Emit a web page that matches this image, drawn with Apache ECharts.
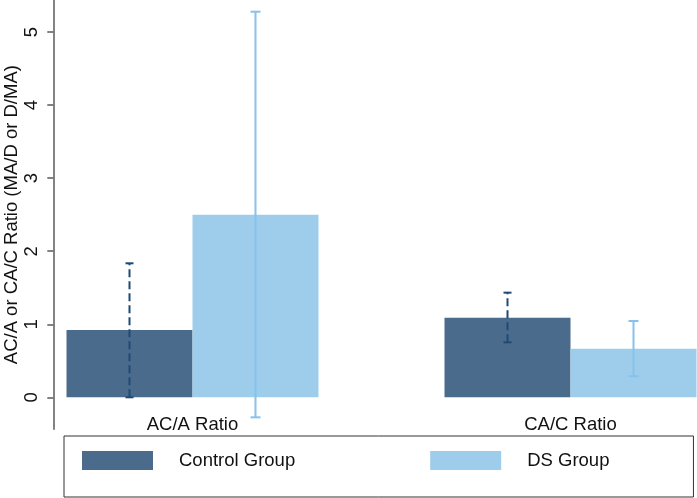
<!DOCTYPE html>
<html>
<head>
<meta charset="utf-8">
<script src="https://cdn.jsdelivr.net/npm/echarts@6/dist/echarts.min.js"></script>
<style>html,body{margin:0;padding:0;background:#fff;}#c{width:697px;height:498px;}</style>
</head>
<body>
<div id="c"></div>
<script>
var categories = ['AC/A Ratio', 'CA/C Ratio'];
var seriesNames = ['Control Group', 'DS Group'];
var controlMeans = [0.922, 1.09];
var dsMeans = [2.5, 0.666];
var controlLow = [0.0, 0.753];
var controlHigh = [1.835, 1.433];
var dsLow = [-0.274, 0.288];
var dsHigh = [5.28, 1.045];
var yTicks = [0, 1, 2, 3, 4, 5];

var FONT = 'Liberation Sans, Arial, Helvetica, sans-serif';
var FS = 18.5;
var BAR_W = 126;

function errData(lo, hi) {
  return categories.map(function (c, i) { return [i, lo[i], hi[i]]; });
}
function makeErr(offset, color, dashed, capHalf) {
  return function (params, api) {
    var x = api.value(0);
    var pLo = api.coord([x, api.value(1)]);
    var pHi = api.coord([x, api.value(2)]);
    var cx = pLo[0] + offset;
    var style = { stroke: color, lineWidth: 2, fill: null };
    if (dashed) style.lineDash = [8, 4];
    var capStyle = { stroke: color, lineWidth: 2, fill: null };
    return {
      type: 'group',
      children: [
        { type: 'line', shape: { x1: cx, y1: pLo[1], x2: cx, y2: pHi[1] }, style: style },
        { type: 'line', shape: { x1: cx - capHalf, y1: pHi[1], x2: cx + capHalf, y2: pHi[1] }, style: capStyle },
        { type: 'line', shape: { x1: cx - capHalf, y1: pLo[1], x2: cx + capHalf, y2: pLo[1] }, style: capStyle }
      ]
    };
  };
}

var chart = echarts.init(document.getElementById('c'), null, { renderer: 'canvas' });
chart.setOption({
  animation: false,
  backgroundColor: '#fff',
  textStyle: { fontFamily: FONT },
  grid: { left: 3.5, top: 0, width: 756, height: 429.3, containLabel: false, outerBoundsMode: 'none' },
  legend: {
    data: seriesNames,
    left: 64, top: 436,
    orient: 'horizontal',
    icon: 'rect',
    itemWidth: 71, itemHeight: 19,
    itemGap: 135,
    padding: [15, 84, 27, 18],
    borderColor: '#333', borderWidth: 1,
    textStyle: { fontSize: FS, color: '#111', fontFamily: FONT, padding: [0, 0, 0, 21] }
  },
  xAxis: {
    type: 'category',
    data: categories,
    boundaryGap: true,
    axisLine: { show: false },
    axisTick: { show: false },
    axisLabel: { margin: -14, fontSize: FS, color: '#111', fontFamily: FONT },
    splitLine: { show: false }
  },
  yAxis: {
    type: 'value',
    min: -0.438, max: 5.44,
    offset: -49.8,
    name: 'AC/A or CA/C Ratio (MA/D or D/MA)',
    nameLocation: 'middle',
    nameRotate: 90,
    nameGap: 32,
    nameMoveOverlap: false,
    nameTextStyle: { fontSize: FS, color: '#111', fontFamily: FONT },
    axisLine: { show: true, lineStyle: { color: '#5a5a5a', width: 1.5 } },
    axisTick: { show: true, length: 6, customValues: yTicks, lineStyle: { color: '#5a5a5a', width: 1.5 } },
    axisLabel: { rotate: 90, margin: 12, fontSize: FS, color: '#111', fontFamily: FONT, customValues: yTicks },
    splitLine: { show: false }
  },
  series: [
    { name: seriesNames[0], type: 'bar', data: controlMeans, barWidth: BAR_W, barGap: '0%',
      itemStyle: { color: '#4a6b8c' } },
    { name: seriesNames[1], type: 'bar', data: dsMeans, barWidth: BAR_W, barGap: '0%',
      itemStyle: { color: '#9ecdec' } },
    { name: 'ctrlErr', type: 'custom', data: errData(controlLow, controlHigh), z: 5,
      encode: { x: 0, y: [1, 2] }, renderItem: makeErr(-BAR_W / 2, '#1f4a74', true, 4) },
    { name: 'dsErr', type: 'custom', data: errData(dsLow, dsHigh), z: 5,
      encode: { x: 0, y: [1, 2] }, renderItem: makeErr(BAR_W / 2, '#86c2ec', false, 5) }
  ]
});
</script>
</body>
</html>
